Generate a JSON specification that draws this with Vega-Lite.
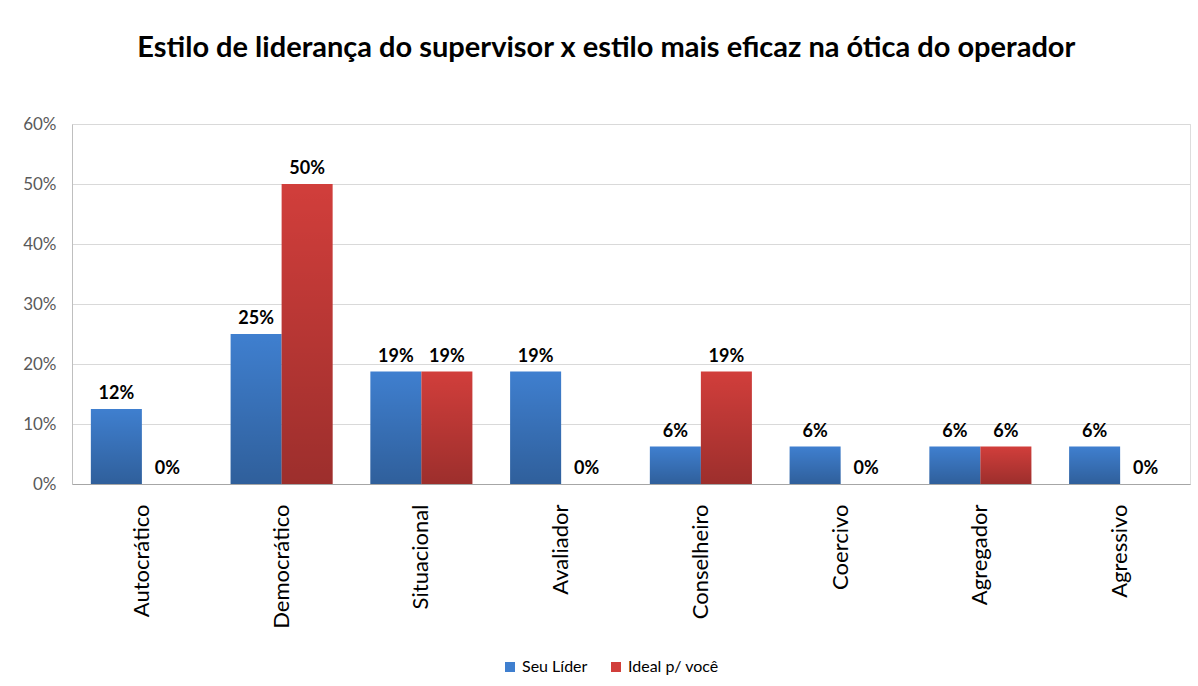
{
  "$schema": "https://vega.github.io/schema/vega-lite/v6.json",
  "autosize": "none",
  "width": 1118,
  "height": 360,
  "padding": {"left": 72, "top": 124, "right": 8, "bottom": 202},
  "background": "white",
  "title": {
    "text": "Estilo de liderança do supervisor x estilo mais eficaz na ótica do operador",
    "font": "Lato",
    "fontSize": 29,
    "fontWeight": "bold",
    "color": "#000000",
    "anchor": "middle",
    "frame": "bounds",
    "offset": 52
  },
  "data": {
    "values": [
      {"estilo": "Autocrático", "serie": "Seu Líder", "valor": 0.125, "rotulo": "12%"},
      {"estilo": "Autocrático", "serie": "Ideal p/ você", "valor": 0, "rotulo": "0%"},
      {"estilo": "Democrático", "serie": "Seu Líder", "valor": 0.25, "rotulo": "25%"},
      {"estilo": "Democrático", "serie": "Ideal p/ você", "valor": 0.5, "rotulo": "50%"},
      {"estilo": "Situacional", "serie": "Seu Líder", "valor": 0.1875, "rotulo": "19%"},
      {"estilo": "Situacional", "serie": "Ideal p/ você", "valor": 0.1875, "rotulo": "19%"},
      {"estilo": "Avaliador", "serie": "Seu Líder", "valor": 0.1875, "rotulo": "19%"},
      {"estilo": "Avaliador", "serie": "Ideal p/ você", "valor": 0, "rotulo": "0%"},
      {"estilo": "Conselheiro", "serie": "Seu Líder", "valor": 0.0625, "rotulo": "6%"},
      {"estilo": "Conselheiro", "serie": "Ideal p/ você", "valor": 0.1875, "rotulo": "19%"},
      {"estilo": "Coercivo", "serie": "Seu Líder", "valor": 0.0625, "rotulo": "6%"},
      {"estilo": "Coercivo", "serie": "Ideal p/ você", "valor": 0, "rotulo": "0%"},
      {"estilo": "Agregador", "serie": "Seu Líder", "valor": 0.0625, "rotulo": "6%"},
      {"estilo": "Agregador", "serie": "Ideal p/ você", "valor": 0.0625, "rotulo": "6%"},
      {"estilo": "Agressivo", "serie": "Seu Líder", "valor": 0.0625, "rotulo": "6%"},
      {"estilo": "Agressivo", "serie": "Ideal p/ você", "valor": 0, "rotulo": "0%"}
    ]
  },
  "encoding": {
    "x": {
      "field": "estilo",
      "type": "nominal",
      "sort": ["Autocrático", "Democrático", "Situacional", "Avaliador", "Conselheiro", "Coercivo", "Agregador", "Agressivo"],
      "scale": {"paddingInner": 0.27, "paddingOuter": 0.135},
      "axis": {
        "title": null,
        "labelAngle": -90,
        "labelAlign": "right",
        "labelBaseline": "middle",
        "labelPadding": 20,
        "labelFont": "Lato",
        "labelFontSize": 22,
        "labelColor": "#000000",
        "ticks": false,
        "domainColor": "#A6A6A6",
        "domainWidth": 1.2
      }
    },
    "xOffset": {"field": "serie", "type": "nominal", "sort": ["Seu Líder", "Ideal p/ você"]},
    "y": {
      "field": "valor",
      "type": "quantitative",
      "scale": {"domain": [0, 0.6], "nice": false},
      "axis": {
        "title": null,
        "format": ".0%",
        "values": [0, 0.1, 0.2, 0.3, 0.4, 0.5, 0.6],
        "labelFont": "Lato",
        "labelFontSize": 17,
        "labelColor": "#595959",
        "labelPadding": 16,
        "ticks": false,
        "domainColor": "#BFBFBF",
        "gridColor": "#D9D9D9",
        "gridWidth": 1.2
      }
    }
  },
  "layer": [
    {
      "mark": {"type": "bar"},
      "encoding": {
        "color": {
          "field": "serie",
          "type": "nominal",
          "sort": ["Seu Líder", "Ideal p/ você"],
          "scale": {"domain": ["Seu Líder", "Ideal p/ você"], "range": ["#3F7FCF", "#D13E3B"]},
          "legend": {
            "title": null,
            "orient": "none",
            "direction": "horizontal",
            "legendX": 430,
            "legendY": 535,
            "symbolType": "square",
            "symbolSize": 100,
            "symbolStrokeWidth": 0,
            "labelFont": "Lato",
            "labelFontSize": 16,
            "labelColor": "#000000",
            "columnPadding": 20,
            "labelOffset": 4
          }
        }
      }
    },
    {
      "mark": {
        "type": "bar",
        "fill": {
          "gradient": "linear",
          "x1": 0, "y1": 0, "x2": 0, "y2": 1,
          "stops": [
            {"offset": 0, "color": "rgba(0,0,0,0)"},
            {"offset": 1, "color": "rgba(0,0,0,0.25)"}
          ]
        }
      }
    },
    {
      "mark": {"type": "text", "baseline": "bottom", "dy": -6, "font": "Lato", "fontSize": 18, "fontWeight": "bold", "color": "#000000"},
      "encoding": {"text": {"field": "rotulo"}}
    }
  ]
}
